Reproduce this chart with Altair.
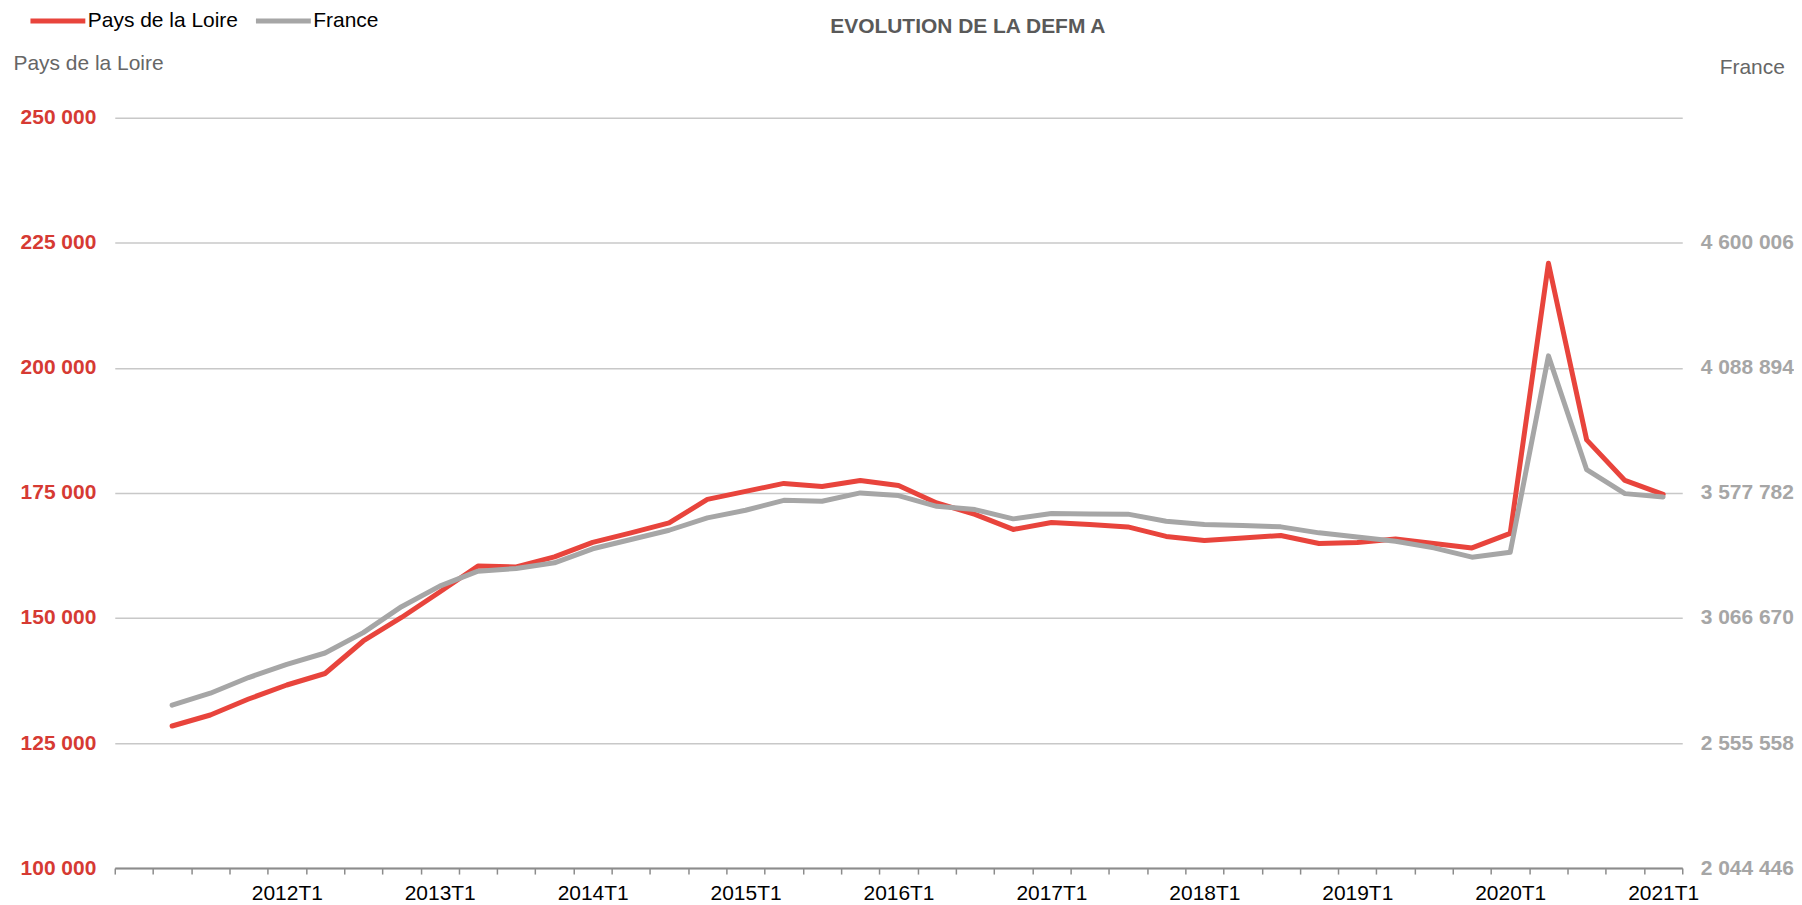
import altair as alt
import pandas as pd

quarters = [
    "2011T1", "2011T2", "2011T3", "2011T4",
    "2012T1", "2012T2", "2012T3", "2012T4",
    "2013T1", "2013T2", "2013T3", "2013T4",
    "2014T1", "2014T2", "2014T3", "2014T4",
    "2015T1", "2015T2", "2015T3", "2015T4",
    "2016T1", "2016T2", "2016T3", "2016T4",
    "2017T1", "2017T2", "2017T3", "2017T4",
    "2018T1", "2018T2", "2018T3", "2018T4",
    "2019T1", "2019T2", "2019T3", "2019T4",
    "2020T1", "2020T2", "2020T3", "2020T4",
    "2021T1",
]

pays_de_la_loire = [
    None, 128400, 130600, 133800, 136600, 138900, 145400, 150100, 155200,
    160400, 160200, 162200, 165100, 167000, 169000, 173700, 175300, 176900,
    176300, 177500, 176500, 173000, 170700, 167700, 169100, 168700, 168200,
    166300, 165500, 166000, 166500, 164900, 165100, 165800, 164900, 164000,
    166900, 220900, 185600, 177500, 174700,
]

france = [
    None, 2710200, 2759100, 2823100, 2877400, 2923500, 3006700, 3112800,
    3196800, 3258000, 3269000, 3292200, 3349400, 3387300, 3425200, 3475800,
    3506800, 3547600, 3543500, 3577800, 3566800, 3523100, 3509700, 3471700,
    3493300, 3492100, 3491000, 3461900, 3448500, 3444400, 3439100, 3414600,
    3397500, 3380400, 3353400, 3315100, 3335500, 4137800, 3672800, 3574900,
    3561500,
]

left_ticks = [100000, 125000, 150000, 175000, 200000, 225000, 250000]
right_ticks = [2044446, 2555558, 3066670, 3577782, 4088894, 4600006]
right_domain = [2044446, 5111118]
series_names = ["Pays de la Loire", "France"]
chart_title = ["EVOLUTION DE LA DEFM A"]

RED = "#e8443c"
GRAY = "#a6a6a6"
FONT = "Liberation Sans"

df = pd.DataFrame({"q": quarters, "pdl": pays_de_la_loire, "fr": france})
title_df = pd.DataFrame({"t": chart_title})

fmt = "replace(format(datum.value, ',d'), regexp(',', 'g'), ' ')"

x_scale = alt.Scale(type="band", domain=quarters, paddingInner=0, paddingOuter=0)
x_axis = alt.Axis(
    title=None,
    labelAngle=0,
    labelExpr="(slice(datum.label, 4) == 'T1' && datum.label != '2011T1') ? datum.label : ''",
    tickBand="extent",
    tickSize=6,
    tickColor="#8c8c8c",
    tickWidth=1.5,
    domainColor="#8c8c8c",
    domainWidth=2,
    labelFontSize=21,
    labelColor="#000000",
    labelPadding=8,
    labelFont=FONT,
    grid=False,
    labelOverlap=False,
)

color_scale = alt.Scale(domain=series_names, range=[RED, GRAY])
legend = alt.Legend(
    title=None,
    orient="none",
    legendX=-87,
    legendY=-127,
    direction="horizontal",
    symbolType="stroke",
    symbolSize=3025,
    symbolStrokeWidth=5,
    labelFontSize=21,
    labelColor="#000000",
    labelFont=FONT,
    labelOffset=0,
    columnPadding=7,
    padding=0,
)

left = (
    alt.Chart(df)
    .transform_calculate(serie="'Pays de la Loire'")
    .mark_line(strokeWidth=5, strokeCap="round", strokeJoin="round")
    .encode(
        x=alt.X("q:O", scale=x_scale, axis=x_axis),
        y=alt.Y(
            "pdl:Q",
            scale=alt.Scale(domain=[left_ticks[0], left_ticks[-1]], nice=False, zero=False),
            axis=alt.Axis(
                values=left_ticks,
                labelExpr=fmt,
                labelColor="#d63a33",
                labelFontWeight="bold",
                labelFontSize=21,
                labelFont=FONT,
                labelPadding=19,
                ticks=False,
                domain=False,
                grid=True,
                gridColor="#c8c8c8",
                gridWidth=1.5,
                title="Pays de la Loire",
                titleAngle=0,
                titleAlign="left",
                titleBaseline="middle",
                titleX=-102,
                titleY=-54,
                titleFontSize=21,
                titleFontWeight="normal",
                titleColor="#666666",
                titleFont=FONT,
            ),
        ),
        color=alt.Color("serie:N", scale=color_scale, legend=legend, sort=series_names),
    )
)

right = (
    alt.Chart(df)
    .transform_calculate(serie="'France'")
    .mark_line(strokeWidth=5, strokeCap="round", strokeJoin="round")
    .encode(
        x=alt.X("q:O", scale=x_scale, axis=x_axis),
        y=alt.Y(
            "fr:Q",
            scale=alt.Scale(domain=right_domain, nice=False, zero=False),
            axis=alt.Axis(
                orient="right",
                values=right_ticks,
                labelExpr=fmt,
                labelColor=GRAY,
                labelFontWeight="bold",
                labelFontSize=21,
                labelFont=FONT,
                labelPadding=18,
                ticks=False,
                domain=False,
                grid=False,
                title="France",
                titleAngle=0,
                titleAlign="left",
                titleBaseline="middle",
                titleX=37,
                titleY=-50,
                titleFontSize=21,
                titleFontWeight="normal",
                titleColor="#666666",
                titleFont=FONT,
            ),
        ),
        color=alt.Color("serie:N", scale=color_scale, legend=legend, sort=series_names),
    )
)

title_mark = (
    alt.Chart(title_df)
    .mark_text(
        font=FONT,
        fontSize=21,
        fontWeight="bold",
        color="#595959",
        align="center",
        baseline="middle",
    )
    .encode(text="t:N", x=alt.value(855), y=alt.value(-91))
)

chart = (
    alt.layer(left, right, title_mark)
    .resolve_scale(y="independent")
    .properties(
        width=1571,
        height=752,
        autosize="none",
        padding={"left": 107, "top": 109, "right": 112, "bottom": 36},
    )
    .configure(font=FONT)
    .configure_view(strokeWidth=0, stroke="transparent")
)

chart.save("out.html", embed_options={"renderer": "svg", "actions": False})
